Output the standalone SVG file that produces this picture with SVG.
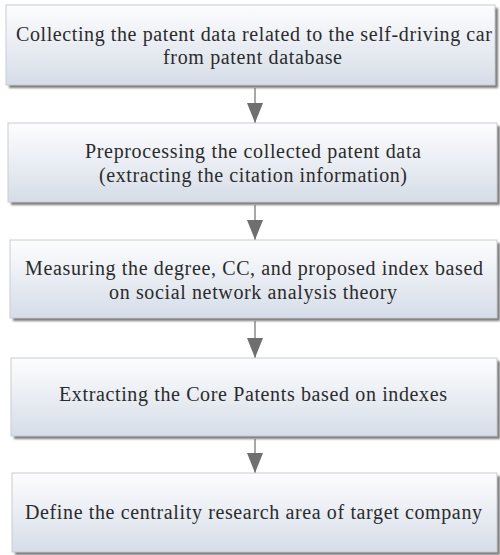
<svg xmlns="http://www.w3.org/2000/svg" width="500" height="555" viewBox="0 0 500 555">
<style>
.box{fill:url(#g);stroke:#c9ccd2;stroke-width:1}
.shadow{fill:#7a7a7a;filter:url(#blur)}
.t{font-family:"Liberation Serif","Times New Roman",serif;font-size:20px;fill:#2b2b2b;text-anchor:middle}
.line{stroke:#8a8a8a;stroke-width:1.5;fill:none}
</style>
<defs>
<linearGradient id="g" x1="0" y1="0" x2="0" y2="1">
<stop offset="0" stop-color="#fdfdfe"/>
<stop offset="1" stop-color="#d6dde8"/>
</linearGradient>
<filter id="blur" x="-5%" y="-10%" width="110%" height="130%"><feGaussianBlur stdDeviation="1"/></filter>
<marker id="arr" markerWidth="20" markerHeight="16" refX="20" refY="8" orient="auto" markerUnits="userSpaceOnUse" viewBox="0 0 20 16">
<path d="M0,0 L20,8 L0,16 Z" fill="#6f6f6f"/>
</marker>
</defs>
<rect width="500" height="555" fill="#ffffff"/>
<g id="connectors">
<path class="line" d="M255,88 V123" marker-end="url(#arr)"/>
<path class="line" d="M255,205 V240" marker-end="url(#arr)"/>
<path class="line" d="M255,321 V358" marker-end="url(#arr)"/>
<path class="line" d="M255,439 V473" marker-end="url(#arr)"/>
</g>
<g id="n1">
<rect class="shadow" x="9" y="8" width="489" height="80"/>
<rect class="box" x="6" y="5" width="489" height="80"/>
<text class="t" x="254" y="41" textLength="476">Collecting the patent data related to the self-driving car</text>
<text class="t" x="252.5" y="64" textLength="179">from patent database</text>
</g>
<g id="n2">
<rect class="shadow" x="11" y="126" width="489" height="79"/>
<rect class="box" x="8" y="123" width="489" height="79"/>
<text class="t" x="253" y="158" textLength="336">Preprocessing the collected patent data</text>
<text class="t" x="253" y="182" textLength="308">(extracting the citation information)</text>
</g>
<g id="n3">
<rect class="shadow" x="13" y="243" width="487" height="78"/>
<rect class="box" x="10" y="240" width="487" height="78"/>
<text class="t" x="254" y="275" textLength="458">Measuring the degree, CC, and proposed index based</text>
<text class="t" x="253" y="299" textLength="288">on social network analysis theory</text>
</g>
<g id="n4">
<rect class="shadow" x="14" y="361" width="486" height="78"/>
<rect class="box" x="11" y="358" width="486" height="78"/>
<text class="t" x="253" y="401" textLength="388">Extracting the Core Patents based on indexes</text>
</g>
<g id="n5">
<rect class="shadow" x="15" y="476" width="485" height="79"/>
<rect class="box" x="12" y="473" width="485" height="79"/>
<text class="t" x="253.5" y="519" textLength="457">Define the centrality research area of target company</text>
</g>
</svg>
